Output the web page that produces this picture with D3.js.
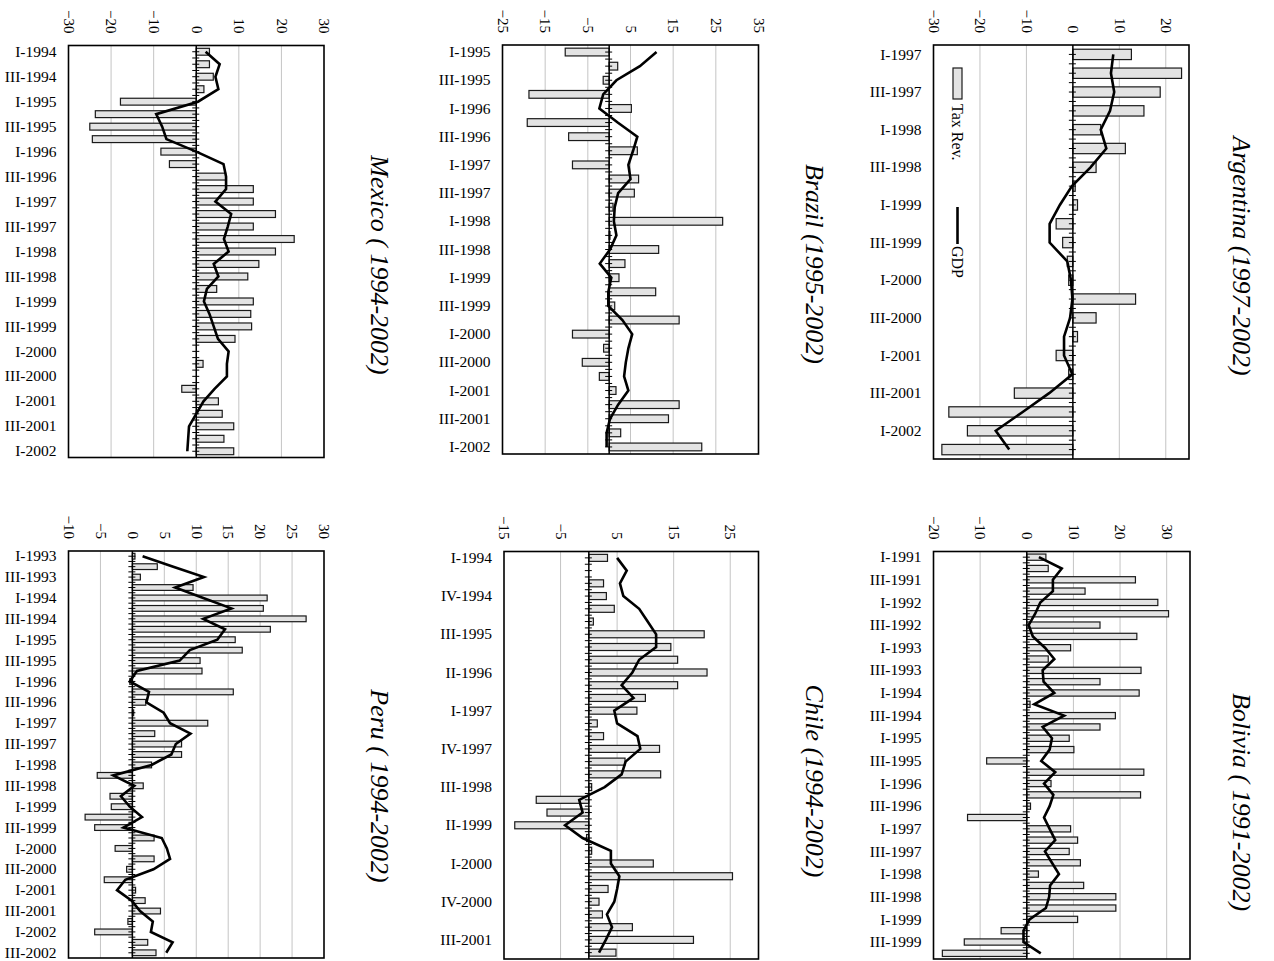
<!DOCTYPE html>
<html>
<head>
<meta charset="utf-8">
<script src="https://cdn.jsdelivr.net/npm/d3@7/dist/d3.min.js"></script>
<style>
  html, body { margin: 0; padding: 0; background: #fff; }
  svg { display: block; }
</style>
</head>
<body>
<svg id="chart" width="1274" height="961"></svg>
<script>
// Quarterly growth rates (%, year on year): tax revenue (bars) and GDP (line)

// ---------- Argentina ----------
const argQuarters = [
  "I-1997","II-1997","III-1997","IV-1997",
  "I-1998","II-1998","III-1998","IV-1998",
  "I-1999","II-1999","III-1999","IV-1999",
  "I-2000","II-2000","III-2000","IV-2000",
  "I-2001","II-2001","III-2001","IV-2001",
  "I-2002","II-2002"
];
const argTax = [12.6, 23.4, 18.8, 15.3, 6.0, 11.3, 5.0, 0.5, 1.0, -3.6, -2.2, -1.2,
                -0.9, 13.5, 5.0, 1.0, -3.6, -0.9, -12.6, -26.7, -22.7, -28.2];
const argGdp = [8.7, 8.2, 8.9, 8.0, 6.0, 7.2, 3.8, -0.2, -2.8, -5.0, -5.0, -1.2,
                -0.4, -0.1, -0.6, -1.9, -1.9, -0.1, -5.1, -10.8, -16.6, -13.7];
const argTicks = [-30, -20, -10, 0, 10, 20];

// ---------- Brazil ----------
const braQuarters = [
  "I-1995","II-1995","III-1995","IV-1995",
  "I-1996","II-1996","III-1996","IV-1996",
  "I-1997","II-1997","III-1997","IV-1997",
  "I-1998","II-1998","III-1998","IV-1998",
  "I-1999","II-1999","III-1999","IV-1999",
  "I-2000","II-2000","III-2000","IV-2000",
  "I-2001","II-2001","III-2001","IV-2001",
  "I-2002"
];
const braTax = [-10.3, 2.0, -1.4, -18.8, 5.2, -19.2, -9.5, 6.6, -8.6, 6.9, 5.9, 0.9,
                26.6, 0.2, 11.6, 3.7, 2.3, 10.9, 1.3, 16.4, -8.6, -1.3, -6.3, -2.3,
                1.6, 16.4, 13.9, 2.7, 21.7];
const braGdp = [11.1, 7.2, 1.7, -1.4, -2.3, 2.0, 6.6, 5.6, 4.5, 5.0, 2.1, 1.3,
                1.1, 1.7, 0.2, -2.2, 0.5, -0.2, -0.2, 3.1, 5.4, 4.5, 3.9, 3.5,
                4.5, 2.1, 0.2, -0.6, -0.6];
const braTicks = [-25, -15, -5, 5, 15, 25, 35];

// ---------- Mexico ----------
const mexQuarters = [
  "I-1994","II-1994","III-1994","IV-1994",
  "I-1995","II-1995","III-1995","IV-1995",
  "I-1996","II-1996","III-1996","IV-1996",
  "I-1997","II-1997","III-1997","IV-1997",
  "I-1998","II-1998","III-1998","IV-1998",
  "I-1999","II-1999","III-1999","IV-1999",
  "I-2000","II-2000","III-2000","IV-2000",
  "I-2001","II-2001","III-2001","IV-2001",
  "I-2002"
];
const mexTax = [3.1, 3.1, 4.0, 1.8, -17.8, -23.7, -25.0, -24.4, -8.3, -6.3, 6.9, 13.4,
                13.4, 18.6, 13.4, 23.0, 18.6, 14.7, 12.1, 4.8, 13.4, 12.8, 13.0, 9.1,
                0, 1.6, 0, -3.4, 5.2, 6.1, 8.8, 6.5, 8.8];
const mexGdp = [2.2, 5.5, 4.5, 5.2, 0.4, -9.4, -8.0, -7.0, 0, 6.4, 7.0, 7.0,
                4.5, 8.2, 7.4, 6.5, 7.6, 4.1, 5.2, 2.5, 1.8, 3.1, 4.1, 5.1,
                7.6, 7.2, 7.2, 4.3, 1.7, 0, -1.7, -1.9, -2.1];
const mexTicks = [-30, -20, -10, 0, 10, 20, 30];

// ---------- Bolivia ----------
const bolQuarters = [
  "I-1991","II-1991","III-1991","IV-1991",
  "I-1992","II-1992","III-1992","IV-1992",
  "I-1993","II-1993","III-1993","IV-1993",
  "I-1994","II-1994","III-1994","IV-1994",
  "I-1995","II-1995","III-1995","IV-1995",
  "I-1996","II-1996","III-1996","IV-1996",
  "I-1997","II-1997","III-1997","IV-1997",
  "I-1998","II-1998","III-1998","IV-1998",
  "I-1999","II-1999","III-1999","IV-1999"
];
const bolTax = [4.1, 4.6, 23.3, 12.5, 28.1, 30.4, 15.7, 23.6, 9.4, 4.6, 24.5, 15.7,
                24.1, 0.7, 19.0, 15.7, 9.1, 10.1, -8.6, 25.1, 5.2, 24.4, 0.8, -12.7,
                9.4, 10.9, 9.1, 11.5, 2.5, 12.2, 19.1, 19.1, 10.9, -5.5, -13.4, -18.1];
const bolGdp = [2.6, 7.5, 5.6, 5.6, 2.9, 1.8, 0.4, 1.3, 3.9, 5.9, 3.4, 3.6,
                5.9, 1.6, 8.0, 3.4, 5.4, 4.9, 3.1, 6.1, 3.7, 5.7, 4.9, 3.7,
                4.9, 6.1, 3.9, 5.4, 6.9, 5.0, 4.8, 4.1, 0.6, -0.7, -0.7, 3.0];
const bolTicks = [-20, -10, 0, 10, 20, 30];

// ---------- Chile ----------
const chiQuarters = [
  "I-1994","II-1994","III-1994","IV-1994",
  "I-1995","II-1995","III-1995","IV-1995",
  "I-1996","II-1996","III-1996","IV-1996",
  "I-1997","II-1997","III-1997","IV-1997",
  "I-1998","II-1998","III-1998","IV-1998",
  "I-1999","II-1999","III-1999","IV-1999",
  "I-2000","II-2000","III-2000","IV-2000",
  "I-2001","II-2001","III-2001","IV-2001"
];
const chiTax = [3.3, 0, 2.6, 3.1, 4.5, 0.8, 20.4, 14.5, 15.7, 20.9, 15.7, 10.0,
                8.5, 1.5, 2.6, 12.5, 6.4, 12.7, 0.5, -9.3, -7.4, -13.1, -0.4, 0.5,
                11.4, 25.4, 3.4, 1.8, 2.4, 7.7, 18.5, 4.8];
const chiGdp = [5.0, 6.7, 5.5, 6.1, 8.9, 10.4, 11.9, 11.9, 8.9, 7.7, 5.8, 7.9,
                4.5, 5.0, 8.6, 9.1, 6.5, 5.8, 2.8, -1.7, -1.1, -4.2, -1.1, 3.9,
                3.9, 5.4, 5.0, 4.5, 3.2, 4.1, 3.0, 1.8];
const chiTicks = [-15, -5, 5, 15, 25];

// ---------- Peru ----------
const perQuarters = [
  "I-1993","II-1993","III-1993","IV-1993",
  "I-1994","II-1994","III-1994","IV-1994",
  "I-1995","II-1995","III-1995","IV-1995",
  "I-1996","II-1996","III-1996","IV-1996",
  "I-1997","II-1997","III-1997","IV-1997",
  "I-1998","II-1998","III-1998","IV-1998",
  "I-1999","II-1999","III-1999","IV-1999",
  "I-2000","II-2000","III-2000","IV-2000",
  "I-2001","II-2001","III-2001","IV-2001",
  "I-2002","II-2002","III-2002"
];
const perTax = [0.4, 3.9, 1.25, 9.5, 21.1, 20.5, 27.2, 21.6, 16.1, 17.2, 10.6, 10.9,
                -0.4, 15.8, 2.1, 0.2, 11.8, 3.5, 7.7, 7.7, 3.0, -5.5, 1.7, -3.5,
                -3.3, -7.4, -5.9, 3.4, -2.7, 3.4, -0.9, -4.4, 0.5, 2.0, 4.4, -0.7,
                -5.9, 2.4, 3.7];
const perGdp = [1.6, 6.4, 11.2, 6.7, 11.1, 15.5, 11.1, 14.5, 13.3, 9.0, 7.4, 0.7,
                -0.4, 2.6, 2.2, 4.9, 5.9, 9.1, 6.8, 6.1, 3.0, -3.0, 0.3, -1.8,
                -0.4, 1.5, -1.4, 4.6, 5.4, 5.9, 3.3, -1.1, -2.4, -0.1, 1.2, 3.2,
                2.9, 6.3, 5.3];
const perTicks = [-10, -5, 0, 5, 10, 15, 20, 25, 30];

// ---------- panel layout ----------
const panels = [
  { title: "Argentina (1997-2002)", cats: argQuarters, tax: argTax, gdp: argGdp,
    ticks: argTicks, domain: [-30, 25], every: 2, legend: true,
    box: { left: 933.5, right: 1189, top: 45, bottom: 459 }, titleAt: [1242, 256] },
  { title: "Brazil (1995-2002)", cats: braQuarters, tax: braTax, gdp: braGdp,
    ticks: braTicks, domain: [-25, 35], every: 2,
    box: { left: 502.5, right: 758.5, top: 45, bottom: 454 }, titleAt: [815, 264] },
  { title: "Mexico ( 1994-2002)", cats: mexQuarters, tax: mexTax, gdp: mexGdp,
    ticks: mexTicks, domain: [-30, 30], every: 2,
    box: { left: 68.5, right: 324, top: 45.5, bottom: 457.5 }, titleAt: [380, 265] },
  { title: "Bolivia ( 1991-2002)", cats: bolQuarters, tax: bolTax, gdp: bolGdp,
    ticks: bolTicks, domain: [-20, 35], every: 2,
    box: { left: 933.5, right: 1190, top: 551.5, bottom: 959 }, titleAt: [1242, 802] },
  { title: "Chile (1994-2002)", cats: chiQuarters, tax: chiTax, gdp: chiGdp,
    ticks: chiTicks, domain: [-15, 30], every: 3,
    box: { left: 504, right: 758.5, top: 551.5, bottom: 959 }, titleAt: [815, 781] },
  { title: "Peru ( 1994-2002)", cats: perQuarters, tax: perTax, gdp: perGdp,
    ticks: perTicks, domain: [-10, 30], every: 2,
    box: { left: 68.5, right: 324, top: 551, bottom: 958 }, titleAt: [380, 786] }
];

const FONT = '"Liberation Serif", "Times New Roman", Times, serif';
const fmt = v => (v < 0 ? "\u2212" + Math.abs(v) : String(v));

const svg = d3.select("#chart");

panels.forEach(p => {
  const b = p.box;
  const g = svg.append("g");

  const x = d3.scaleLinear().domain(p.domain).range([b.left, b.right]);
  const y = d3.scaleBand().domain(p.cats).range([b.top, b.bottom])
    .paddingInner(0.45).paddingOuter(0.225);
  const yc = c => y(c) + y.bandwidth() / 2;

  // light vertical grid lines
  g.append("g").selectAll("line")
    .data(p.ticks.filter(t => t !== 0 && t > p.domain[0] && t < p.domain[1]))
    .join("line")
    .attr("x1", d => x(d)).attr("x2", d => x(d))
    .attr("y1", b.top).attr("y2", b.bottom)
    .attr("stroke", "#c4c4c4").attr("stroke-width", 1);

  // tax revenue bars
  const rows = p.cats.map((c, i) => ({ c, tax: p.tax[i], gdp: p.gdp[i] }));
  g.append("g").selectAll("rect")
    .data(rows)
    .join("rect")
    .attr("x", d => Math.min(x(0), x(d.tax)))
    .attr("width", d => Math.abs(x(d.tax) - x(0)))
    .attr("y", d => y(d.c))
    .attr("height", y.bandwidth())
    .attr("fill", "#e3e3e3")
    .attr("stroke", "#1a1a1a")
    .attr("stroke-width", 1.2);

  // zero axis with a tick every half quarter
  const z = x(0);
  g.append("line")
    .attr("x1", z).attr("x2", z).attr("y1", b.top).attr("y2", b.bottom)
    .attr("stroke", "#000").attr("stroke-width", 1.5);
  const halfSteps = d3.range(1, p.cats.length * 2).map(i => b.top + i * y.step() / 2);
  g.append("g").selectAll("line")
    .data(halfSteps)
    .join("line")
    .attr("x1", z - 4).attr("x2", z + 3)
    .attr("y1", d => d).attr("y2", d => d)
    .attr("stroke", "#000").attr("stroke-width", 1);

  // GDP growth line
  g.append("path")
    .datum(rows)
    .attr("d", d3.line().x(d => x(d.gdp)).y(d => yc(d.c)))
    .attr("fill", "none")
    .attr("stroke", "#000")
    .attr("stroke-width", 2.6)
    .attr("stroke-linejoin", "miter");

  // plot frame
  g.append("rect")
    .attr("x", b.left).attr("y", b.top)
    .attr("width", b.right - b.left).attr("height", b.bottom - b.top)
    .attr("fill", "none").attr("stroke", "#000").attr("stroke-width", 1.6);

  // value axis above the frame, labels turned a quarter clockwise
  const xAxis = g.append("g")
    .attr("transform", `translate(0,${b.top - 12})`)
    .call(d3.axisTop(x).tickValues(p.ticks).tickSize(0).tickPadding(0).tickFormat(fmt));
  xAxis.select(".domain").remove();
  xAxis.selectAll("text")
    .attr("x", 0).attr("y", 0).attr("dy", "0.35em")
    .attr("transform", "rotate(90)")
    .style("text-anchor", "end")
    .style("font-family", FONT).style("font-size", "15px").style("fill", "#000");

  // quarter labels on the left
  const yAxis = g.append("g")
    .attr("transform", `translate(${b.left},0)`)
    .call(d3.axisLeft(y)
      .tickValues(p.cats.filter((c, i) => i % p.every === 0))
      .tickSize(0).tickPadding(12));
  yAxis.select(".domain").remove();
  yAxis.selectAll("text")
    .attr("dy", "0.33em")
    .style("font-family", FONT).style("font-size", "15.5px").style("fill", "#000");

  // country title
  g.append("text")
    .attr("transform", `translate(${p.titleAt[0]},${p.titleAt[1]}) rotate(90)`)
    .attr("dy", "0.35em")
    .attr("text-anchor", "middle")
    .style("font-family", FONT).style("font-style", "italic").style("font-size", "26px")
    .text(p.title);

  // legend
  if (p.legend) {
    const lx = 957.5;
    g.append("rect")
      .attr("x", lx - 4.5).attr("y", 68).attr("width", 9).attr("height", 31)
      .attr("fill", "#e3e3e3").attr("stroke", "#1a1a1a").attr("stroke-width", 1.2);
    g.append("text")
      .attr("transform", `translate(${lx},104) rotate(90)`)
      .attr("dy", "0.35em")
      .style("font-family", FONT).style("font-size", "16px")
      .text("Tax Rev.");
    g.append("line")
      .attr("x1", lx).attr("x2", lx).attr("y1", 207).attr("y2", 244)
      .attr("stroke", "#000").attr("stroke-width", 2.6);
    g.append("text")
      .attr("transform", `translate(${lx},246) rotate(90)`)
      .attr("dy", "0.35em")
      .style("font-family", FONT).style("font-size", "16px")
      .text("GDP");
  }
});
</script>
</body>
</html>
